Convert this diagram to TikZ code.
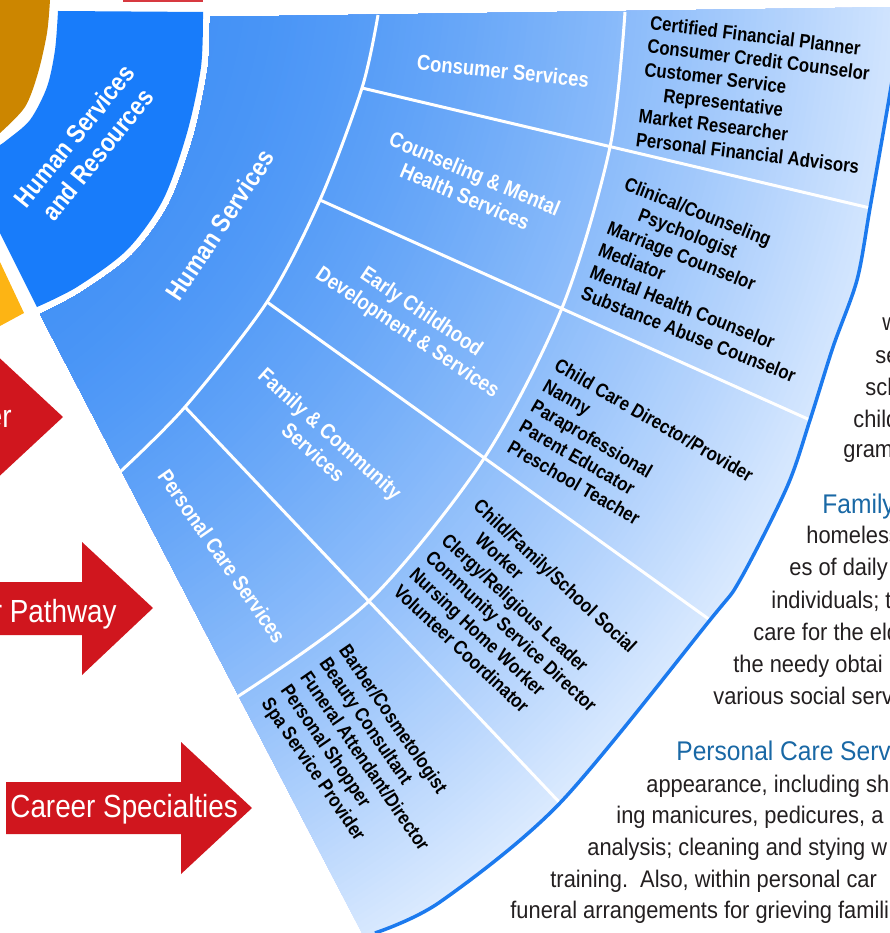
\documentclass[tikz,border=0pt]{standalone}
\usepackage{fontspec}
\setmainfont{Liberation Sans}
\newfontfamily\wheelfont[FakeStretch=0.86]{Liberation Sans}
\newfontfamily\bannerfont[FakeStretch=0.87]{Liberation Sans}
\newfontfamily\copyfont[FakeStretch=0.91]{Liberation Sans}
\usepackage{xcolor}

\definecolor{orangewheel}{RGB}{204,134,0}
\definecolor{yellowwheel}{RGB}{253,180,20}
\definecolor{hsrblue}{RGB}{24,124,250}
\definecolor{fanA}{RGB}{68,146,246}
\definecolor{fanE}{RGB}{224,237,255}
\definecolor{rimblue}{RGB}{28,122,238}
\definecolor{bannerred}{RGB}{208,22,30}
\definecolor{headblue}{RGB}{25,104,165}
\definecolor{bodygray}{RGB}{35,31,32}

\begin{document}
\begin{tikzpicture}[x=1pt, y=-1pt, thick,
  ringlabel/.style={text=white, align=center, inner sep=0pt,
    font=\wheelfont\bfseries\fontsize{21.5}{25}\selectfont},
  biglabel/.style={ringlabel,
    font=\wheelfont\bfseries\fontsize{26}{30}\selectfont},
  joblist/.style={anchor=north west, align=left, inner sep=0pt,
    font=\wheelfont\bfseries\fontsize{19.5}{23.5}\selectfont},
  divider/.style={draw=white, line width=3pt},
  bannertext/.style={text=white, inner sep=0pt,
    font=\bannerfont\fontsize{32}{36}\selectfont},
  bodytext/.style={anchor=base west, inner sep=0pt, text=bodygray,
    font=\copyfont\fontsize{24}{30}\selectfont},
  headtext/.style={bodytext, text=headblue,
    font=\copyfont\fontsize{27}{30}\selectfont}]

      \useasboundingbox (0,0) rectangle (890,933);
      \clip (0,0) rectangle (890,933);

      % inner wheel
      \fill[orangewheel] (0,0) -- plot[smooth] coordinates {(50,0) (47,33)
      (38,73) (25,107) (0,133)} -- cycle;
      \fill[yellowwheel] (0,262) -- (24,313) -- (0,326) -- cycle;
      \fill[bannerred!85] (123,0) rectangle (203,2);

      % cluster ring
      \fill[hsrblue] (58,11) -- (203,12) -- plot[smooth] coordinates {(203,12)
      (201,67) (187,133) (163,200) (127,250) (77,287) (37,307)} -- (0,233)
      -- (0,145) -- plot[smooth] coordinates {(0,145) (7,140) (30,120)
      (47,87) (55,50) (58,11)} -- cycle;

      % pathway fan, lighter towards the rim
      \begin{scope}
        \clip (210,17) -- (905,7) -- plot[smooth] coordinates {(905,0)
        (890,93) (870,208) (857,280) (833,347) (810,420) (787,487) (740,580)
        (710,620) (560,803) (440,902) (375,933)} -- (362,933) -- (40,314)
        -- plot[smooth] coordinates {(40,314) (80,293) (132,255) (169,204)
        (194,135) (208,67) (210,17)} -- cycle;
        \foreach \r in {1200,1194,...,450} {
          \pgfmathsetmacro\mix{100*pow(max(0,min(1,(\r-460)/740)),1.4)}
          \fill[fanE!\mix!fanA] (-249,-57) circle[radius=\r pt];
        }
      \end{scope}

      % dividers
      \draw[divider] plot[smooth] coordinates {(378,15) (362,88) (320,200)
      (267,302) (185,407) (120,472)};
      \draw[divider] plot[smooth] coordinates {(625,12) (610,147) (562,308)
      (483,460) (368,602) (237,697)};
      \draw[divider] (362,88) -- (870,208);
      \draw[divider] (320,200) -- (810,420);
      \draw[divider] (267,302) -- (710,620);
      \draw[divider] (185,407) -- (560,803);

      % rim
      \draw[rimblue, line width=3.5pt] plot[smooth] coordinates {(905,0)
      (890,93) (870,208) (857,280) (833,347) (810,420) (787,487) (740,580)
      (710,620) (560,803) (440,902) (375,933)};

      % ring labels
      \node[biglabel, rotate=51] (hsr) at (86,145)
      {Human Services\\and Resources};
      \node[biglabel, rotate=56.5] (hs) at (220,225) {Human Services};

      \node[ringlabel, rotate=-6] (consumer) at (503,71) {Consumer Services};
      \node[ringlabel, rotate=-23] (counseling) at (470,185)
      {Counseling \& Mental\\Health Services};
      \node[ringlabel, rotate=-34] (early) at (414,323)
      {Early Childhood\\Development \& Services};
      \node[ringlabel, rotate=-42] (family) at (322,443)
      {Family \& Community\\Services};
      \node[ringlabel, rotate=-55] (personal) at (222,556)
      {Personal Care Services};

      % careers
      \node[joblist, rotate=-7] (consumerjobs) at (651,15)
      {Certified Financial Planner\\Consumer Credit Counselor\\
      Customer Service\\\hspace*{22pt}Representative\\Market Researcher\\
      Personal Financial Advisors};
      \node[joblist, rotate=-21.5] (counselingjobs) at (628,176)
      {Clinical/Counseling\\\hspace*{24pt}Psychologist\\Marriage Counselor\\
      Mediator\\Mental Health Counselor\\Substance Abuse Counselor};
      \node[joblist, rotate=-30] (earlyjobs) at (560,357)
      {Child Care Director/Provider\\Nanny\\Paraprofessional\\
      Parent Educator\\Preschool Teacher};
      \node[joblist, rotate=-43] (familyjobs) at (482,497)
      {Child/Family/School Social\\\hspace*{24pt}Worker\\
      Clergy/Religious Leader\\Community Service Director\\
      Nursing Home Worker\\Volunteer Coordinator};
      \node[joblist, rotate=-55.5] (personaljobs) at (350,642)
      {Barber/Cosmetologist\\Beauty Consultant\\Funeral Attendant/Director\\
      Personal Shopper\\Spa Service Provider};

      % banners
      \fill[bannerred] (-20,391) -- (-8,391) -- (-8,351) -- (63,417)
      -- (-8,483) -- (-8,443) -- (-20,443) -- cycle;
      \fill[bannerred] (-20,582) -- (82,582) -- (82,542) -- (153,608)
      -- (82,675) -- (82,635) -- (-20,635) -- cycle;
      \fill[bannerred] (6,782) -- (181,782) -- (181,742) -- (252,808)
      -- (181,874) -- (181,834) -- (6,834) -- cycle;
      \node[bannertext, anchor=base east] (clustertag) at (12,427) {er};
      \node[bannertext, anchor=base east] (pathwaytag) at (117,622)
      {r Pathway};
      \node[bannertext, anchor=base west] (specialtytag) at (10,817)
      {Career Specialties};

      % description
      \node[bodytext] (line1) at (882,330) {w};
      \node[bodytext] (line2) at (875,363) {se};
      \node[bodytext] (line3) at (865,395) {sch};
      \node[bodytext] (line4) at (853,427) {child};
      \node[bodytext] (line5) at (843,457) {gram};
      \node[headtext] (familyhead) at (822,513) {Family};
      \node[bodytext] (line6) at (806,543) {homeless};
      \node[bodytext] (line7) at (789,575) {es of daily};
      \node[bodytext] (line8) at (771,608) {individuals; t};
      \node[bodytext] (line9) at (753,640) {care for the eld};
      \node[bodytext] (line10) at (733,672) {the needy obtai};
      \node[bodytext] (line11) at (713,704) {various social serv};
      \node[headtext] (personalhead) at (676,760) {Personal Care Serv};
      \node[bodytext] (line12) at (646,792) {appearance, including sh};
      \node[bodytext] (line13) at (616,823) {ing manicures, pedicures, a};
      \node[bodytext] (line14) at (587,855) {analysis; cleaning and stying w};
      \node[bodytext] (line15) at (550,887)
      {training.\ \ Also, within personal car};
      \node[bodytext] (line16) at (510,918)
      {funeral arrangements for grieving famili};

    \end{tikzpicture}
\end{document}
